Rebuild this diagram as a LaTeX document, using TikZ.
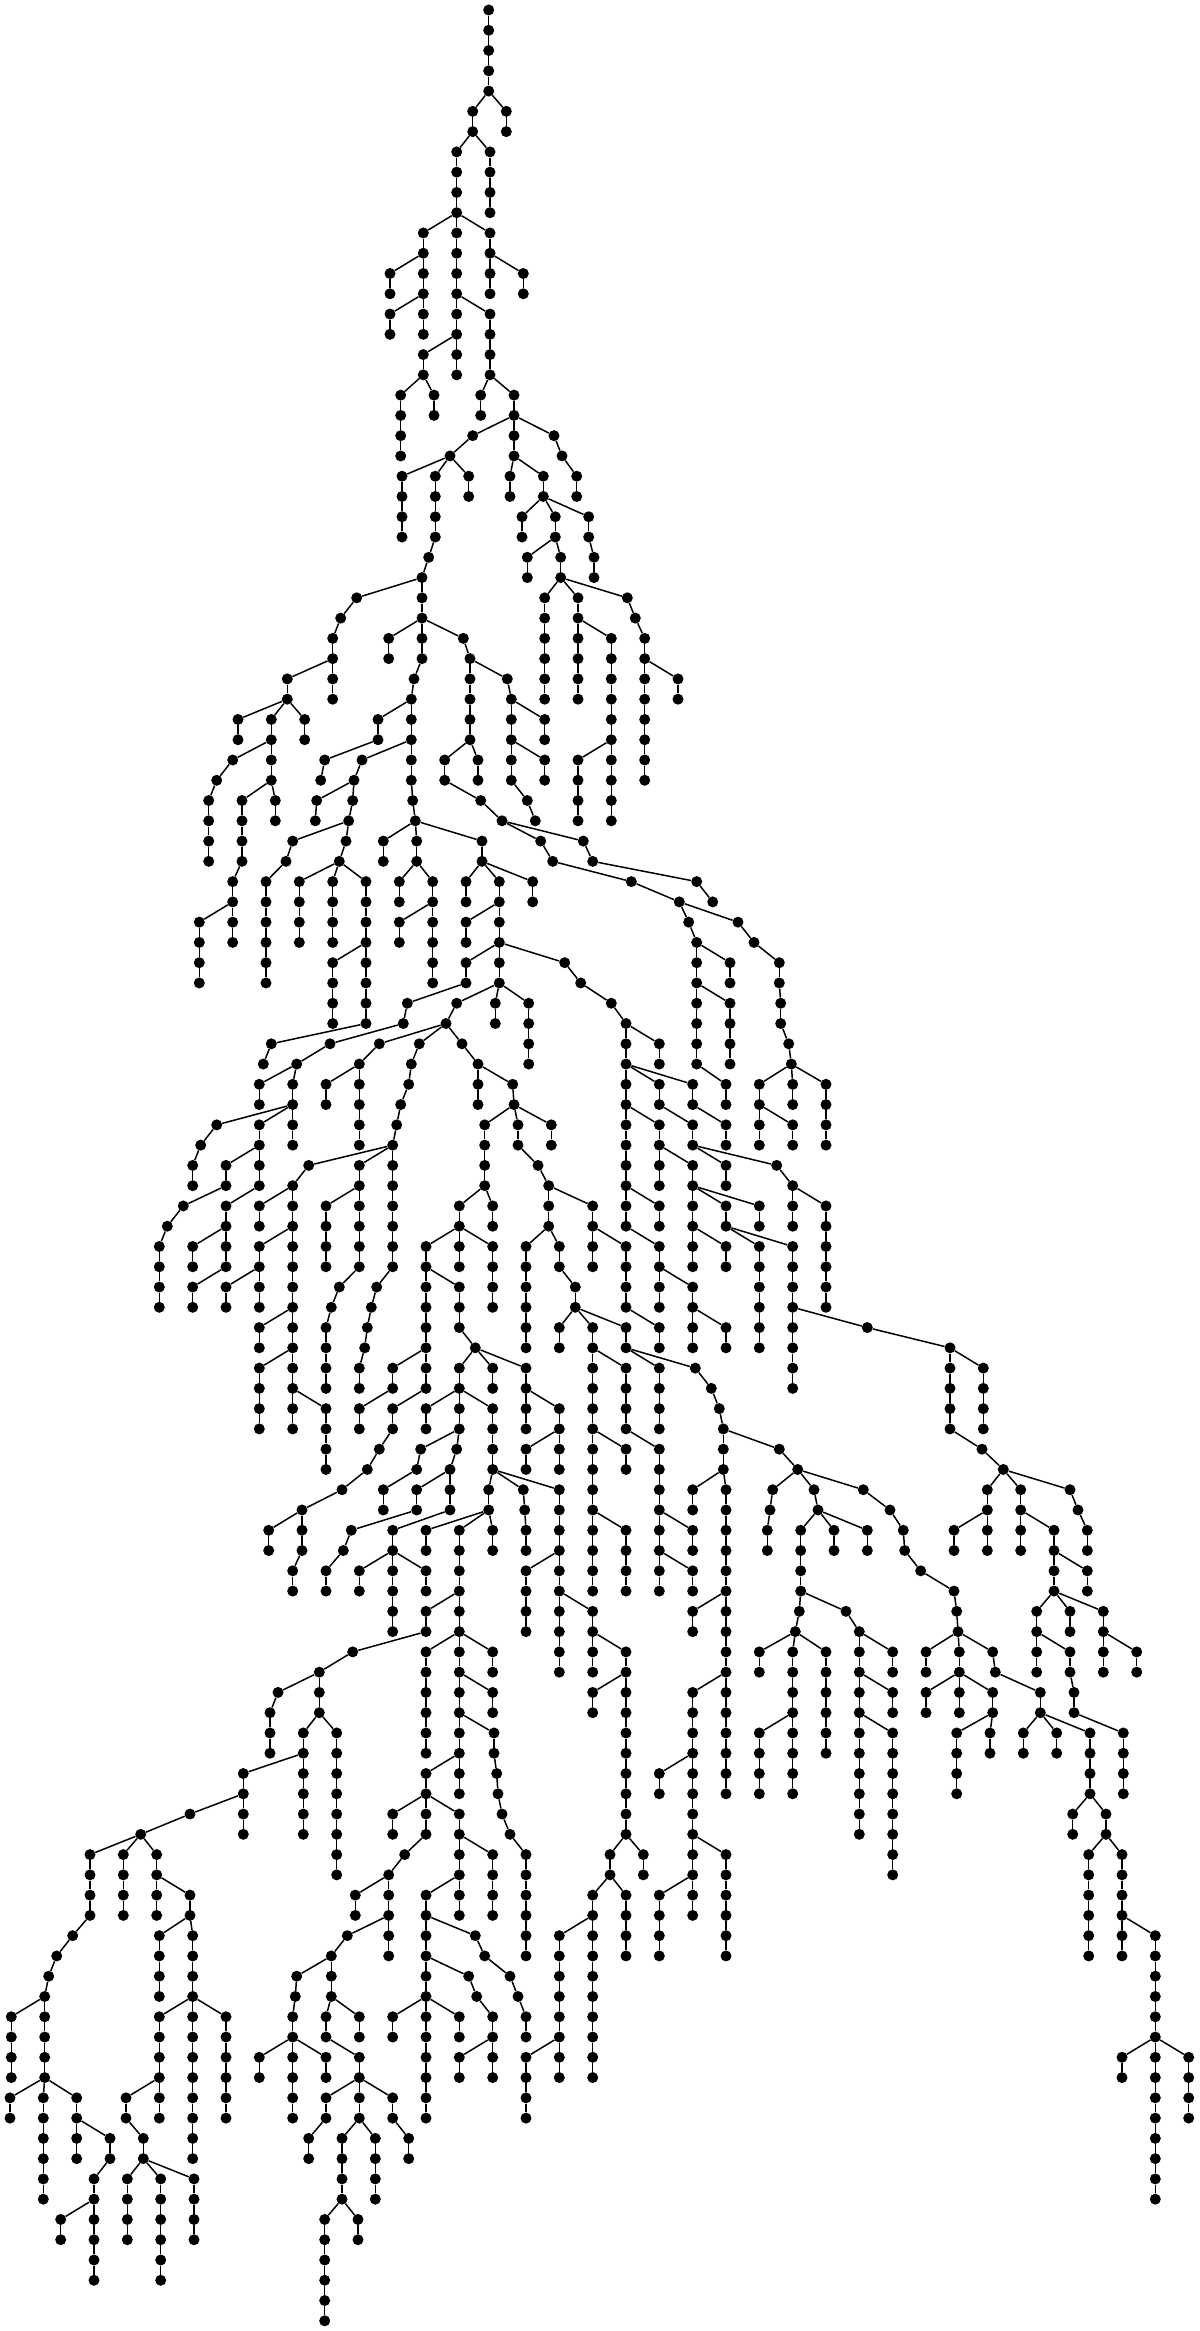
\documentclass[tikz,border=0pt]{standalone}
\tikzset{dotnode/.style={circle,fill=black,draw=none,inner sep=0pt,minimum size=11pt},
  lnk/.style={line width=1.5pt,black}}
\newcount\lvc
\newcount\cic
% \Br{parent}{name}{x}{count}: a run of nodes straight down from x, one layer per node
\newcommand\Br[4]{%
  \lvc=\csname lv@#1\endcsname\relax
  \edef\prevn{t#1}%
  \cic=0
  \loop\ifnum\cic<#4\relax
    \advance\cic by 1
    \advance\lvc by 1
    \edef\curn{t#2-\the\cic}%
    \pgfmathsetmacro\yy{-(10+20.27*\the\lvc)}%
    \node[dotnode] (\curn) at (#3,\yy) {};
    \draw[lnk] (\prevn) -- (\curn);
    \expandafter\xdef\csname lv@#2-\the\cic\endcsname{\the\lvc}%
    \edef\prevn{\curn}%
  \repeat
}
\begin{document}
\begin{tikzpicture}[x=1pt,y=1pt]
\useasboundingbox (0,0) rectangle (1199,-2331);
\node[dotnode] (tr) at (488.7,-10) {};
\expandafter\xdef\csname lv@r\endcsname{0}
\Br{r}{a}{488.7}{4}
\Br{a-4}{b}{472.7}{2}\Br{a-4}{c}{506.3}{2}
\Br{b-2}{d}{456.7}{4}\Br{b-2}{e}{490}{4}
\Br{d-4}{f}{423.3}{4}\Br{d-4}{g}{456.7}{4}\Br{d-4}{h}{490}{4}
\Br{h-2}{i}{523.3}{2}\Br{f-2}{j}{390}{2}\Br{f-4}{k}{390}{2}\Br{f-4}{l}{423.3}{2}
\Br{g-4}{m}{456.7}{4}\Br{m-2}{n}{423.3}{2}\Br{n-2}{o}{400.7}{4}\Br{n-2}{p}{434}{2}
\Br{g-4}{q}{490}{4}\Br{q-4}{s}{480.7}{2}\Br{q-4}{t}{514}{4}
\Br{t-2}{u}{472.7}{1}\Br{u-1}{v}{450}{1}
\Br{v-1}{w}{402}{4}\Br{v-1}{x}{435.3}{4}\Br{v-1}{z}{468.7}{2}
\Br{x-4}{xq}{428.7}{1}\Br{xq-1}{y}{422}{5}
\Br{t-4}{aa}{510}{2}\Br{t-4}{ab}{543.3}{2}
\Br{ab-2}{ac}{522}{2}\Br{ab-2}{ad}{555.3}{2}\Br{ab-2}{ae}{588.7}{2}
\Br{ae-2}{af}{594}{2}\Br{ad-2}{ag}{527.3}{2}\Br{ad-2}{ah}{560.7}{2}
\Br{ah-2}{ai}{544.7}{6}\Br{ah-2}{aj}{578}{6}\Br{ah-2}{ak}{627.3}{1}
\Br{aj-2}{al}{611.3}{6}\Br{al-6}{am}{578}{4}\Br{al-6}{an}{611.3}{4}
\Br{ak-1}{ao}{635.3}{1}\Br{ao-1}{ap}{644.7}{8}\Br{ap-2}{aq}{678}{2}
\Br{t-2}{as}{554}{1}\Br{as-1}{at}{562}{1}\Br{at-1}{au}{576.7}{2}
\Br{y-1}{ba}{356.7}{1}\Br{ba-1}{bb}{340.7}{1}\Br{bb-1}{bc}{332.7}{4}
\Br{bc-2}{bd}{287.3}{2}\Br{bd-2}{be}{238}{2}\Br{bd-2}{bf}{271.3}{4}\Br{bd-2}{bg}{304.7}{2}
\Br{bf-2}{bh}{232.7}{1}\Br{bh-1}{bi}{216.7}{1}\Br{bi-1}{bj}{208.7}{4}
\Br{bf-4}{bk}{242}{4}\Br{bf-4}{bl}{275.3}{2}
\Br{bk-4}{bm}{232.7}{2}\Br{bm-2}{bn}{199.3}{4}\Br{bm-2}{bo}{232.7}{2}
\Br{y-3}{ca}{388.7}{2}\Br{y-3}{cb}{463.3}{1}\Br{cb-1}{cc}{470}{5}
\Br{cc-1}{cd}{507.3}{1}\Br{cd-1}{ce}{511.3}{5}
\Br{ce-1}{cf}{544.7}{2}\Br{ce-3}{cg}{544.7}{2}\Br{ce-5}{ch}{527.3}{1}\Br{ch-1}{ci}{535.3}{1}
\Br{cc-5}{cj}{444.7}{2}\Br{cc-5}{ck}{478}{2}\Br{cj-2}{cl}{480.7}{1}\Br{cl-1}{cm}{502}{1}
\Br{cm-1}{cn}{540.7}{1}\Br{cn-1}{co}{552.7}{1}\Br{co-1}{cp}{631.3}{1}\Br{cp-1}{cq}{679.3}{1}
\Br{cm-1}{cr}{583.3}{1}\Br{cr-1}{cs}{592.7}{1}\Br{cs-1}{ct}{696.7}{1}\Br{ct-1}{cu}{712.7}{1}
\Br{cq-1}{cv}{688.7}{1}\Br{cv-1}{cw}{696.7}{3}\Br{cw-1}{cx}{730}{2}
\Br{cw-3}{cy}{696.7}{4}\Br{cw-3}{cz}{730}{4}\Br{cy-4}{da}{726}{2}
\Br{cq-1}{db}{738}{1}\Br{db-1}{dc}{754}{1}\Br{dc-1}{dd}{779.3}{2}\Br{dd-2}{de}{780.7}{2}
\Br{de-2}{df}{788.7}{1}\Br{df-1}{dg}{791.3}{1}
\Br{dg-1}{dh}{759.3}{4}\Br{dg-1}{di}{792.7}{2}\Br{dg-1}{dj}{826}{4}\Br{dh-2}{dk}{792.7}{2}
\Br{y-5}{ea}{414}{1}\Br{ea-1}{eb}{411.3}{3}\Br{eb-1}{ec}{378}{2}
\Br{ec-2}{ed}{324.7}{1}\Br{ed-1}{ee}{320.7}{1}
\Br{eb-3}{ef}{362}{1}\Br{ef-1}{eg}{354}{1}\Br{eg-1}{eh}{316.7}{1}\Br{eh-1}{ei}{315.3}{1}
\Br{eg-1}{ej}{352.7}{1}\Br{ej-1}{ek}{348.7}{1}
\Br{ek-1}{el}{292.7}{1}\Br{el-1}{em}{286}{1}\Br{em-1}{en}{266}{6}
\Br{ek-1}{eo}{346}{1}\Br{eo-1}{ep}{339.3}{1}
\Br{ep-1}{eq}{299.3}{4}\Br{ep-1}{er}{332.7}{4}\Br{ep-1}{es}{366}{4}
\Br{es-4}{et}{332.7}{4}\Br{es-4}{eu}{366}{4}\Br{eu-4}{ev}{271.3}{1}\Br{ev-1}{ew}{263.3}{1}
\Br{eb-3}{fa}{411.3}{2}\Br{fa-2}{fb}{412.7}{1}\Br{fb-1}{fc}{415.3}{1}
\Br{fc-1}{fd}{383.3}{2}\Br{fc-1}{fe}{416.7}{2}\Br{fc-1}{ff}{482}{2}
\Br{fe-2}{fg}{399.3}{2}\Br{fe-2}{fh}{432.7}{2}\Br{fh-2}{fi}{399.3}{2}\Br{fh-2}{fj}{432.7}{4}
\Br{ff-2}{fk}{466}{2}\Br{ff-2}{fl}{499.3}{2}\Br{ff-2}{fm}{532.7}{2}
\Br{fl-2}{fn}{466}{2}\Br{fl-2}{fo}{499.3}{2}
\Br{fo-2}{fp}{466}{2}\Br{fo-2}{fq}{499.3}{2}\Br{fo-2}{fr}{564.7}{1}
\Br{fp-2}{fs}{407.3}{1}\Br{fs-1}{ft}{403.3}{1}\Br{ft-1}{fu}{330}{1}\Br{fu-1}{fv}{296.7}{1}
\Br{fq-2}{fw}{456.7}{1}\Br{fw-1}{fx}{446}{1}\Br{fq-2}{fy}{495.3}{2}\Br{fq-2}{fz}{528.7}{4}
\Br{fr-1}{ga}{580.7}{1}\Br{ga-1}{gb}{611.3}{1}\Br{gb-1}{gc}{626}{1}
\Br{fx-1}{gd}{379.3}{1}\Br{fx-1}{ge}{419.3}{1}\Br{fx-1}{gf}{462}{1}
\Br{gd-1}{gg}{359.3}{5}\Br{gg-1}{gh}{326}{2}
\Br{ge-1}{gi}{411.3}{1}\Br{gi-1}{gj}{408.7}{1}\Br{gj-1}{gk}{400.7}{1}\Br{gk-1}{gl}{396.7}{1}\Br{gl-1}{gm}{392.7}{1}
\Br{gm-1}{gn}{308.7}{1}\Br{gm-1}{go}{359.3}{2}\Br{gm-1}{gp}{392.7}{6}
\Br{go-2}{gq}{326}{4}\Br{go-2}{gr}{359.3}{4}
\Br{gr-4}{gs}{339.3}{1}\Br{gs-1}{gt}{331.3}{1}\Br{gt-1}{gu}{326}{4}
\Br{gp-6}{gv}{376.7}{1}\Br{gv-1}{gw}{371.3}{1}\Br{gw-1}{gx}{367.3}{1}\Br{gx-1}{gy}{364.7}{1}\Br{gy-1}{gz}{359.3}{2}
\Br{gn-1}{ha}{292.7}{13}
\Br{ha-1}{hb}{259.3}{2}\Br{ha-3}{hc}{259.3}{4}\Br{hc-2}{hd}{226}{2}
\Br{ha-7}{he}{259.3}{2}\Br{ha-9}{hf}{259.3}{4}\Br{ha-11}{hg}{326}{4}
\Br{fv-1}{ia}{259.3}{2}\Br{fv-1}{ib}{292.7}{4}
\Br{ib-2}{ic}{216.7}{1}\Br{ic-1}{id}{200.7}{1}\Br{id-1}{ie}{192.7}{2}
\Br{ib-2}{ig}{259.3}{4}\Br{ig-2}{ih}{226}{2}
\Br{ih-2}{ii}{183.3}{1}\Br{ii-1}{ij}{167.3}{1}\Br{ij-1}{ik}{159.3}{4}
\Br{ig-4}{il}{226}{4}\Br{il-2}{im}{192.7}{2}\Br{il-4}{io}{192.7}{2}
\Br{gf-1}{ja}{478}{3}\Br{ja-1}{jb}{512.7}{1}\Br{jb-1}{jc}{514}{1}
\Br{jc-1}{jd}{484.7}{4}\Br{jc-1}{je}{518}{2}\Br{jc-1}{jf}{551.3}{2}
\Br{je-2}{jg}{538}{1}\Br{jg-1}{jh}{548.7}{3}\Br{jh-1}{ji}{592.7}{2}
\Br{jh-3}{jj}{526}{6}\Br{jh-3}{jk}{559.3}{2}\Br{jk-2}{jl}{575.3}{2}
\Br{ji-2}{jm}{592.7}{2}\Br{ji-2}{jn}{626}{4}\Br{jn-4}{jo}{659.3}{2}
\Br{jd-4}{ka}{459.3}{2}\Br{jd-4}{kb}{492.7}{2}
\Br{ka-2}{kc}{426}{8}\Br{ka-2}{kd}{459.3}{2}\Br{ka-2}{ke}{492.7}{4}
\Br{kc-2}{kf}{459.3}{3}\Br{kf-3}{kg}{475.3}{1}
\Br{kc-6}{kh}{392.7}{2}\Br{kh-2}{ki}{359.3}{2}
\Br{kc-8}{kj}{392.7}{2}\Br{kj-2}{kk}{379.3}{1}\Br{kk-1}{kl}{367.3}{1}\Br{kl-1}{km}{342}{1}\Br{km-1}{kn}{302}{3}
\Br{kn-1}{ko}{268.7}{2}\Br{kn-3}{kp}{292.7}{2}
\Br{kg-1}{la}{459.3}{2}\Br{kg-1}{lb}{492.7}{2}\Br{kg-1}{lc}{526}{2}
\Br{lc-2}{ya}{526}{2}\Br{lc-2}{yb}{559.3}{2}\Br{yb-2}{yc}{526}{2}\Br{yb-2}{yd}{559.3}{2}
\Br{la-2}{ld}{426}{2}\Br{la-2}{le}{459.3}{2}\Br{la-2}{lf}{492.7}{4}
\Br{le-2}{lg}{420.7}{1}\Br{lg-1}{lh}{416.7}{1}\Br{lh-1}{li}{383.3}{2}
\Br{le-2}{lj}{456.7}{1}\Br{lj-1}{lk}{450}{1}
\Br{lk-1}{ll}{416.7}{2}\Br{lk-1}{lm}{450}{2}
\Br{ll-2}{ln}{351.3}{1}\Br{ln-1}{lo}{343.3}{1}\Br{lo-1}{lp}{326}{2}
\Br{lm-2}{lq}{392.7}{2}\Br{lq-2}{lr}{359.3}{2}\Br{lq-2}{ls}{392.7}{4}\Br{lq-2}{lt}{426}{2}
\Br{lf-4}{ma}{488.7}{2}\Br{lf-4}{mb}{523.3}{1}\Br{mb-1}{mc}{524.7}{1}\Br{mc-1}{md}{526}{2}\Br{lf-4}{me}{559.3}{4}
\Br{ma-2}{mf}{426}{2}\Br{ma-2}{mg}{459.3}{4}\Br{ma-2}{mh}{492.7}{2}
\Br{mg-4}{mi}{426}{2}\Br{mg-4}{mj}{459.3}{2}
\Br{mi-2}{mk}{352.7}{1}\Br{mk-1}{ml}{319.3}{1}
\Br{ml-1}{mm}{278}{1}\Br{mm-1}{mn}{270}{3}\Br{ml-1}{mo}{319.3}{2}
\Br{mo-2}{mp}{303.3}{2}\Br{mo-2}{mq}{336.7}{8}
\Br{mp-2}{mr}{243.3}{2}\Br{mp-2}{ms}{303.3}{4}
\Br{mj-2}{mt}{426}{6}\Br{mj-2}{mu}{459.3}{2}\Br{mj-2}{mv}{492.7}{2}
\Br{mu-2}{mw}{459.3}{2}\Br{mu-2}{mx}{492.7}{2}
\Br{mw-2}{my}{459.3}{2}\Br{mw-2}{mz}{494}{2}
\Br{my-2}{na}{426}{2}\Br{my-2}{nb}{459.3}{2}
\Br{na-2}{nc}{392.7}{2}\Br{na-2}{nd}{426}{2}\Br{na-2}{ne}{459.3}{2}
\Br{nd-2}{nf}{404.7}{1}\Br{nf-1}{ng}{388.7}{1}
\Br{ng-1}{nh}{355.3}{2}\Br{ng-1}{ni}{388.7}{2}
\Br{ni-2}{nj}{347.3}{1}\Br{ni-2}{nk}{388.7}{2}\Br{nj-1}{nl}{331.3}{1}
\Br{nl-1}{nm}{296.7}{1}\Br{nm-1}{nn}{295.3}{1}\Br{nn-1}{no}{292.7}{2}
\Br{no-2}{np}{259.3}{2}\Br{no-2}{nq}{292.7}{4}\Br{no-2}{nr}{326}{2}
\Br{nl-1}{ns}{331.3}{2}\Br{ns-2}{nt}{326}{2}\Br{ns-2}{nu}{359.3}{2}
\Br{nt-2}{nv}{359.3}{2}
\Br{nv-2}{nw}{326}{2}\Br{nv-2}{nx}{359.3}{2}\Br{nv-2}{ny}{392.7}{2}
\Br{nw-2}{nz}{308.7}{2}\Br{nx-2}{oa}{342}{4}\Br{nx-2}{ob}{375.3}{4}
\Br{oa-4}{oc}{324.7}{6}\Br{oa-4}{od}{358}{2}\Br{ny-2}{oe}{408.7}{2}
\Br{ne-2}{of}{459.3}{2}\Br{ne-2}{og}{492.7}{4}
\Br{of-2}{oh}{426}{2}\Br{of-2}{oi}{459.3}{2}
\Br{oh-2}{oj}{426}{2}\Br{oh-2}{ok}{475.3}{1}
\Br{ok-1}{ol}{484.7}{1}\Br{ol-1}{om}{510}{1}\Br{om-1}{on}{518}{1}\Br{on-1}{oo}{526}{2}
\Br{oj-2}{op}{426}{2}\Br{oj-2}{oq}{468.7}{1}
\Br{op-2}{or}{392.7}{2}\Br{op-2}{os}{426}{6}\Br{op-2}{ot}{459.3}{2}
\Br{oq-1}{ou}{476.7}{1}\Br{ou-1}{ov}{492.7}{2}\Br{ov-2}{ow}{459.3}{2}\Br{ov-2}{ox}{492.7}{2}
\Br{mz-2}{oy}{496.7}{1}\Br{oy-1}{oz}{498}{1}\Br{oz-1}{pa}{502}{1}\Br{pa-1}{pb}{510}{1}\Br{pb-1}{pc}{526}{6}
\Br{me-4}{pd}{526}{4}\Br{me-4}{pe}{559.3}{2}
\Br{pe-2}{pf}{559.3}{4}\Br{pe-2}{pg}{592.7}{2}
\Br{pg-2}{ph}{592.7}{2}\Br{pg-2}{pi}{626}{2}
\Br{pi-2}{pj}{592.7}{2}\Br{pi-2}{pk}{626}{8}
\Br{pk-8}{pl}{610}{2}\Br{pk-8}{pm}{643.3}{2}
\Br{pl-2}{pn}{592.7}{10}\Br{pl-2}{po}{626}{4}
\Br{pn-2}{pp}{559.3}{8}\Br{pp-6}{pq}{526}{4}
\Br{gc-1}{qa}{626}{10}\Br{gc-1}{qb}{659.3}{2}
\Br{qa-2}{qc}{659.3}{2}\Br{qa-2}{qd}{692.7}{2}
\Br{qa-4}{qe}{659.3}{4}
\Br{qc-2}{qf}{692.7}{2}\Br{qd-2}{qg}{726}{2}
\Br{qf-2}{qh}{726}{2}\Br{qf-2}{qi}{776.7}{1}\Br{qi-1}{qj}{792.7}{1}
\Br{qj-1}{qk}{792.7}{2}\Br{qj-1}{ql}{826}{6}
\Br{qe-2}{qn}{692.7}{2}
\Br{qn-2}{qo}{692.7}{4}\Br{qn-2}{qp}{726}{2}\Br{qn-2}{qq}{759.3}{2}
\Br{qo-2}{qr}{726}{2}
\Br{qp-2}{qs}{759.3}{6}\Br{qp-2}{qt}{792.7}{8}
\Br{qt-4}{qu}{867.3}{1}\Br{qu-1}{qv}{950}{5}
\Br{qv-1}{qw}{983.3}{4}\Br{qv-5}{qx}{982}{1}\Br{qx-1}{qy}{1003.3}{1}
\Br{qa-8}{qz}{659.3}{2}
\Br{qa-10}{ra}{659.3}{4}\Br{ra-2}{rb}{692.7}{4}\Br{rb-2}{rc}{726}{2}
\Br{jl-2}{rd}{559.3}{2}\Br{jl-2}{re}{592.7}{2}\Br{jl-2}{rf}{626}{2}
\Br{re-2}{rg}{592.7}{4}\Br{re-2}{rh}{626}{4}
\Br{rg-4}{ri}{592.7}{4}\Br{rg-4}{rj}{626}{2}
\Br{ri-4}{rk}{592.7}{4}\Br{ri-4}{rl}{626}{4}
\Br{rf-2}{rm}{659.3}{4}\Br{rf-2}{rn}{695.3}{1}
\Br{rn-1}{ro}{711.3}{1}\Br{ro-1}{rp}{719.3}{1}\Br{rp-1}{rq}{723.3}{3}
\Br{rh-4}{rr}{659.3}{4}\Br{rr-4}{rs}{659.3}{2}\Br{rr-4}{rt}{692.7}{2}
\Br{rs-2}{ru}{659.3}{2}\Br{rs-2}{rv}{692.7}{2}
\Br{rq-1}{rw}{779.3}{1}\Br{rw-1}{rx}{797.7}{1}
\Br{rq-3}{ry}{692.7}{2}\Br{rq-3}{rz}{726}{16}
\Br{rz-6}{sa}{692.7}{2}\Br{rz-10}{sb}{692.7}{8}
\Br{sb-4}{sc}{659.3}{2}
\Br{sb-8}{sd}{692.7}{2}\Br{sb-8}{se}{726}{6}
\Br{sd-2}{sf}{659.3}{4}\Br{sd-2}{sg}{692.7}{2}
\Br{rx-1}{ta}{772.7}{1}\Br{ta-1}{tb}{770}{1}\Br{tb-1}{tc}{767.3}{2}
\Br{rx-1}{td}{814}{1}\Br{td-1}{te}{818}{1}
\Br{te-1}{tf}{800.7}{4}\Br{te-1}{tg}{834}{2}\Br{te-1}{th}{867.3}{2}
\Br{tf-4}{ti}{799.3}{1}\Br{ti-1}{tj}{795.3}{1}
\Br{tj-1}{tk}{759.3}{2}\Br{tj-1}{tl}{792.7}{4}\Br{tj-1}{tm}{826}{6}
\Br{tl-4}{tn}{759.3}{4}\Br{tl-4}{to}{792.7}{4}
\Br{tf-4}{tp}{846}{1}\Br{tp-1}{tq}{859.3}{5}
\Br{tq-1}{tr}{892.7}{2}\Br{tq-3}{ts}{892.7}{2}
\Br{tq-5}{tt}{859.3}{6}\Br{tq-5}{tu}{892.7}{8}
\Br{rx-1}{tv}{863.3}{1}\Br{tv-1}{tw}{890}{1}\Br{tw-1}{tx}{903.3}{1}\Br{tx-1}{ty}{904.7}{1}
\Br{ty-1}{tz}{920.7}{1}\Br{tz-1}{ua}{954}{1}\Br{ua-1}{ub}{956.7}{1}\Br{ub-1}{uc}{958}{1}
\Br{uc-1}{ud}{926}{2}\Br{uc-1}{ue}{959.3}{2}\Br{uc-1}{uf}{992.7}{1}
\Br{ue-2}{ug}{926}{2}\Br{ue-2}{uh}{959.3}{2}\Br{ue-2}{ui}{992.7}{2}
\Br{ui-2}{uj}{956.7}{4}\Br{ui-2}{uk}{990}{2}
\Br{uf-1}{ul}{995.3}{1}\Br{ul-1}{um}{1040.3}{2}
\Br{um-2}{un}{1023.3}{2}\Br{um-2}{uo}{1056.7}{2}\Br{um-2}{up}{1090}{4}
\Br{up-4}{uq}{1072.7}{2}\Br{up-4}{ur}{1106}{2}
\Br{ur-2}{us}{1088.7}{6}\Br{ur-2}{ut}{1122}{6}
\Br{ut-4}{uu}{1155.3}{6}
\Br{uu-6}{uv}{1122}{2}\Br{uu-6}{uw}{1155.3}{8}\Br{uu-6}{ux}{1188.7}{4}
\Br{qy-1}{va}{987.3}{2}\Br{qy-1}{vb}{1020.7}{2}\Br{qy-1}{vc}{1070}{1}
\Br{va-2}{vd}{954}{2}\Br{va-2}{ve}{987.3}{2}
\Br{vb-2}{vf}{1020.7}{2}\Br{vb-2}{vg}{1054}{4}
\Br{vg-2}{vh}{1087.3}{2}
\Br{vg-4}{vi}{1036.7}{2}\Br{vg-4}{vj}{1070}{2}\Br{vg-4}{vk}{1103.3}{2}
\Br{vi-2}{vl}{1036.7}{2}\Br{vi-2}{vm}{1070}{2}
\Br{vm-2}{vn}{1074}{2}\Br{vn-2}{vo}{1123.3}{4}
\Br{vk-2}{vp}{1103.3}{2}\Br{vk-2}{vq}{1136.7}{2}
\Br{vc-1}{vr}{1078}{1}\Br{vr-1}{vs}{1087.3}{2}
\Br{mr-2}{wa}{190}{1}\Br{mr-2}{wb}{243.3}{2}\Br{wa-1}{wc}{140.7}{1}
\Br{wc-1}{wd}{90}{4}\Br{wc-1}{we}{123.3}{4}\Br{wc-1}{wf}{156.7}{2}
\Br{wd-4}{wg}{72.7}{1}\Br{wg-1}{wh}{56.7}{1}\Br{wh-1}{wi}{48.7}{1}\Br{wi-1}{wj}{44.7}{1}
\Br{wj-1}{wk}{11.3}{4}\Br{wj-1}{wl}{44.7}{4}
\Br{wl-4}{wm}{10}{2}\Br{wl-4}{wn}{43.3}{6}\Br{wl-4}{wo}{76.7}{2}
\Br{wo-2}{wp}{76.7}{2}\Br{wo-2}{wq}{110}{2}
\Br{wq-2}{wr}{94}{6}\Br{wr-2}{ws}{60.7}{2}
\Br{wf-2}{wt}{156.7}{2}\Br{wf-2}{wu}{190}{2}
\Br{wu-2}{wv}{159.3}{4}\Br{wu-2}{ww}{192.7}{4}
\Br{ww-4}{wx}{159.3}{4}\Br{ww-4}{wy}{192.7}{8}\Br{ww-4}{wz}{226}{6}
\Br{wx-4}{xa}{126}{2}\Br{wx-4}{xb}{159.3}{2}
\Br{xa-2}{xc}{143.3}{2}
\Br{xc-2}{xd}{127.3}{4}\Br{xc-2}{xe}{160.7}{6}\Br{xc-2}{xf}{194}{4}
\end{tikzpicture}
\end{document}
